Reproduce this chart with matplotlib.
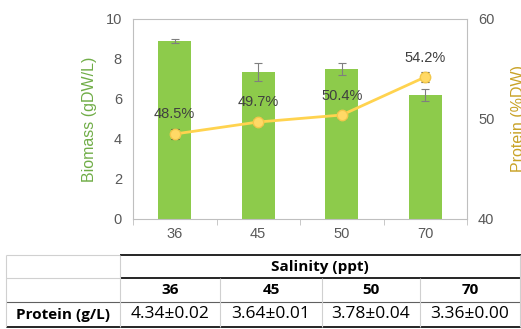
import matplotlib
matplotlib.use("Agg")
import matplotlib.pyplot as plt
import numpy as np

# Salinity treatments
salinity = ["36", "45", "50", "70"]

# Biomass (gDW/L) with standard deviation
biomass = [8.9, 7.37, 7.52, 6.2]
biomass_err = [0.08, 0.45, 0.3, 0.28]

# Protein content (% of dry weight) with standard deviation
protein_pct = [48.5, 49.7, 50.4, 54.2]
protein_pct_err = [0.5, 0.35, 0.4, 0.5]

# Protein yield table (g/L)
protein_gl = ["4.34±0.02", "3.64±0.01", "3.78±0.04", "3.36±0.00"]

BAR_GREEN = "#8DCB4B"
LINE_YELLOW = "#FFD34F"
TICK_GREY = "#595959"
FRAME_GREY = "#BFBFBF"

plt.rcParams["font.family"] = ["Liberation Sans", "DejaVu Sans"]

W, H = 521, 329
fig = plt.figure(figsize=(W / 100, H / 100), dpi=100)

ax = fig.add_axes([133 / W, 1 - 219 / H, (467 - 133) / W, 200 / H])
x = np.arange(len(salinity))
ax.bar(x, biomass, width=0.4, color=BAR_GREEN, zorder=2)
ax.errorbar(x, biomass, yerr=biomass_err, fmt="none", ecolor="#7F7F7F",
            elinewidth=0.8, capsize=3, capthick=0.8, zorder=3)
ax.set_xlim(-0.5, len(salinity) - 0.5)
ax.set_ylim(0, 10)
ax.set_yticks(range(0, 11, 2))
ax.set_xticks(x)
ax.set_xticklabels(salinity)
ax.set_xticks(np.arange(-0.5, len(salinity)), minor=True)
ax.tick_params(axis="x", which="major", length=0, pad=6, labelsize=10.5, labelcolor=TICK_GREY)
ax.tick_params(axis="x", which="minor", length=4, color=FRAME_GREY, direction="out")
ax.tick_params(axis="y", length=0, pad=8, labelsize=10.5, labelcolor=TICK_GREY)
for s in ax.spines.values():
    s.set_color(FRAME_GREY)
    s.set_linewidth(0.8)
ax.set_ylabel("Biomass (gDW/L)", color="#70AD47", fontsize=11.5, labelpad=6)

ax2 = ax.twinx()
ax2.errorbar(x, protein_pct, yerr=protein_pct_err, fmt="none", ecolor="#404040",
             elinewidth=0.8, capsize=3, capthick=0.8, zorder=4)
ax2.plot(x, protein_pct, color=LINE_YELLOW, linewidth=2, marker="o", markersize=7.5,
         markerfacecolor="#FFD966", markeredgecolor="#F2C84B", zorder=5)
for xi, v in zip(x, protein_pct):
    ax2.annotate(f"{v:.1f}%", (xi, v), xytext=(0, 9), textcoords="offset points",
                 ha="center", va="bottom", fontsize=10.5, color="#404040")
ax2.set_ylim(40, 60)
ax2.set_yticks([40, 50, 60])
ax2.tick_params(axis="y", length=0, pad=8, labelsize=10.5, labelcolor=TICK_GREY)
for s in ax2.spines.values():
    s.set_visible(False)
ax2.set_ylabel("Protein (%DW)", color="#C9A227", fontsize=11.5, labelpad=12)

# Protein yield table beneath the chart, drawn in pixel coordinates
tab = fig.add_axes([0, 0, 1, 1], zorder=-1)
tab.set_xlim(0, W)
tab.set_ylim(H, 0)
tab.axis("off")

col_edges = [6, 120, 220, 322, 420, 520]
rows = [255, 278, 302, 327]

tab.hlines(rows[0], col_edges[0], col_edges[1], color="#D0D0D0", lw=0.8)
tab.hlines(rows[0], col_edges[1], W, color="black", lw=1.2)
tab.hlines(rows[1], col_edges[0], col_edges[1], color="#D0D0D0", lw=0.8)
tab.hlines(rows[1], col_edges[1], W, color="black", lw=1.2)
tab.hlines(rows[2], col_edges[0], W, color="#606060", lw=0.8)
tab.hlines(rows[3], col_edges[0], W, color="black", lw=1.2)
tab.vlines([col_edges[0], col_edges[1], col_edges[-1]], rows[0], rows[3], color="#D0D0D0", lw=0.8)
tab.vlines(col_edges[2:-1], rows[1], rows[3], color="#D0D0D0", lw=0.8)

bold = dict(family="Open Sans", fontsize=11, color="black", fontweight="bold")
plain = dict(family="Open Sans", fontsize=12.5, color="black")
tab.text((col_edges[1] + col_edges[-1]) / 2, (rows[0] + rows[1]) / 2, "Salinity (ppt)",
         ha="center", va="center", **bold)
for i, lab in enumerate(salinity):
    cx = (col_edges[i + 1] + col_edges[i + 2]) / 2
    tab.text(cx, (rows[1] + rows[2]) / 2, lab, ha="center", va="center", **bold)
    tab.text(cx, (rows[2] + rows[3]) / 2, protein_gl[i], ha="center", va="center", **plain)
tab.text((col_edges[0] + col_edges[1]) / 2, (rows[2] + rows[3]) / 2, "Protein (g/L)",
         ha="center", va="center", **bold)

fig.savefig("out.png", dpi=100)
